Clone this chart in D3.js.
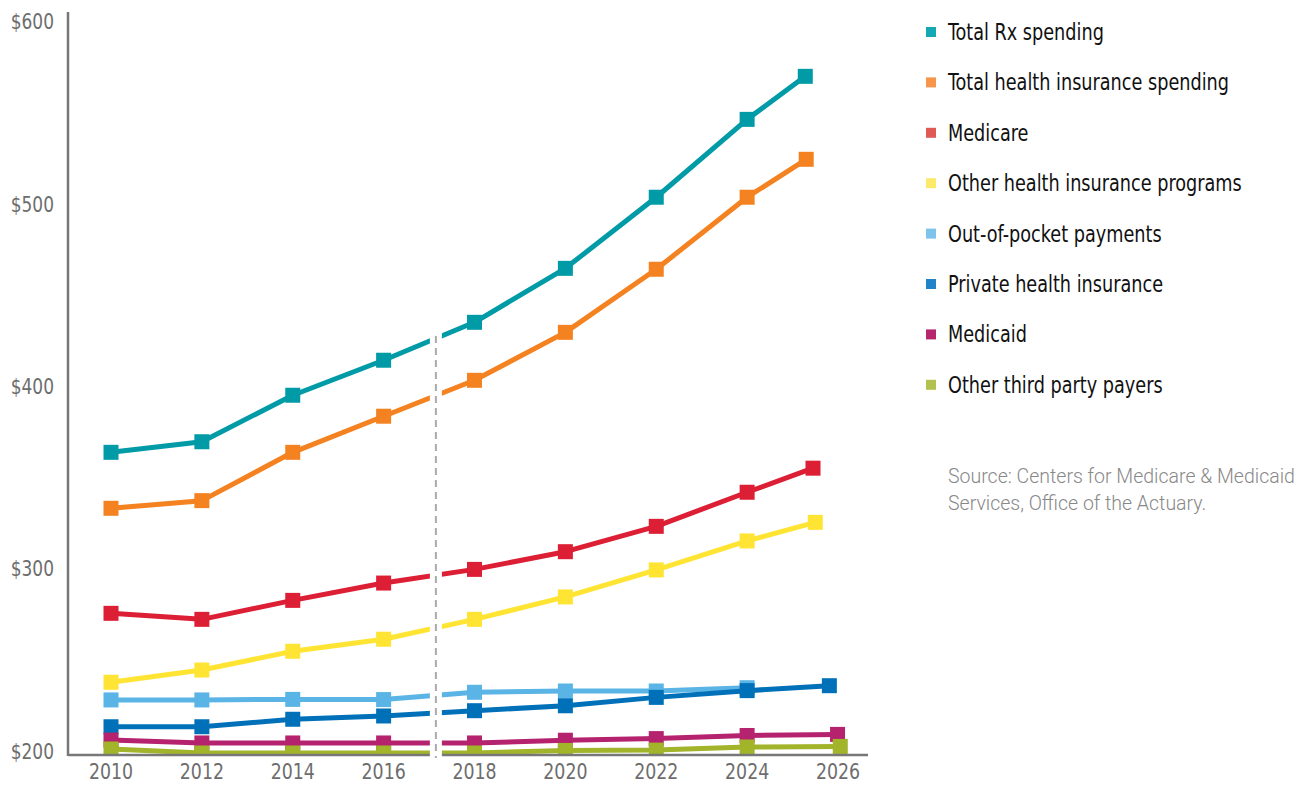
<!DOCTYPE html>
<html>
<head>
<meta charset="utf-8">
<script src="https://cdn.jsdelivr.net/npm/d3@7"></script>
<style>
  body { margin: 0; background: #fff; }
  svg { display: block; }
</style>
</head>
<body>
<div id="chart"></div>
<script>
const W = 1306, H = 785;
const COND = '"Liberation Sans Narrow", "DejaVu Sans Condensed", "Roboto Condensed", sans-serif';

// data (spending, $ billions)
const years = [2010, 2012, 2014, 2016, 2018, 2020, 2022, 2024];
const seriesNames = [
  "Total Rx spending",
  "Total health insurance spending",
  "Medicare",
  "Other health insurance programs",
  "Out-of-pocket payments",
  "Private health insurance",
  "Medicaid",
  "Other third party payers"
];
const totalRx          = [364.0, 369.8, 395.3, 414.5, 435.3, 464.9, 503.9, 546.6, 570.2];
const totalInsurance   = [333.3, 337.5, 364.0, 383.8, 403.5, 429.8, 464.4, 503.9, 524.7];
const medicare         = [275.7, 272.4, 282.8, 292.3, 299.8, 309.5, 323.4, 342.1, 355.3];
const otherPrograms    = [237.9, 244.6, 254.9, 261.5, 272.4, 284.7, 299.5, 315.4, 325.6];
const outOfPocket      = [228.2, 228.2, 228.5, 228.4, 232.4, 233.1, 233.1, 234.9];
const privateInsurance = [213.5, 213.5, 217.6, 219.4, 222.3, 225.0, 229.6, 233.3, 236.0];
const medicaid         = [206.2, 204.6, 204.6, 204.6, 204.6, 206.1, 207.0, 208.7, 209.3];
const otherThirdParty  = [201.3, 199.1, 199.1, 199.1, 199.1, 200.5, 200.7, 202.4, 202.7];
// the last point of each series sits a little before 2026 in the original
const finalYears = [2025.28, 2025.3, 2025.45, 2025.5, null, 2025.81, 2025.99, 2026.05];

const lineColors   = ["#009ba6", "#f58220", "#dc1f35", "#ffe433", "#5ab4e5", "#0071b9", "#b5236f", "#a2b42a"];
const legendColors = ["#14a8b5", "#f7964a", "#e05a55", "#fde96a", "#7cc4ec", "#2383c8", "#b5266f", "#b3c24f"];

const yTicks = [200, 300, 400, 500, 600];
const xTicks = [2010, 2012, 2014, 2016, 2018, 2020, 2022, 2024, 2026];
const projectionYear = 2017.15;
const sourceLines = ["Source: Centers for Medicare & Medicaid", "Services, Office of the Actuary."];

const allValues = [totalRx, totalInsurance, medicare, otherPrograms, outOfPocket, privateInsurance, medicaid, otherThirdParty];
const series = seriesNames.map((name, i) => {
  const vals = allValues[i];
  const xs = years.concat(finalYears[i] == null ? [] : [finalYears[i]]);
  return { name, color: lineColors[i], points: vals.map((v, j) => ({ year: xs[j], value: v })) };
});

const x = d3.scaleLinear().domain([2010, 2026]).range([111, 838]);
const y = d3.scaleLinear().domain([198, 600]).range([755, 22]);
const axisLeftX = 68, axisRightX = 868, axisTopY = 12;

const svg = d3.select("#chart").append("svg")
  .attr("width", W).attr("height", H)
  .attr("viewBox", [0, 0, W, H])
  .style("background-color", "white");

svg.append("defs").append("clipPath").attr("id", "plot-clip")
  .append("rect")
  .attr("x", axisLeftX).attr("y", 0)
  .attr("width", axisRightX - axisLeftX).attr("height", y(198));

const plot = svg.append("g").attr("clip-path", "url(#plot-clip)");

const line = d3.line().x(d => x(d.year)).y(d => y(d.value));

series.forEach(s => {
  const g = plot.append("g");
  g.append("path")
    .datum(s.points)
    .attr("d", line)
    .attr("fill", "none")
    .attr("stroke", s.color)
    .attr("stroke-width", 5)
    .attr("stroke-linejoin", "round");
  g.selectAll("rect")
    .data(s.points)
    .enter()
    .append("rect")
    .attr("x", d => x(d.year) - 7.5)
    .attr("y", d => y(d.value) - 7.5)
    .attr("width", 15)
    .attr("height", 15)
    .attr("fill", s.color);
});

// axes
svg.append("line")
  .attr("x1", axisLeftX).attr("x2", axisLeftX)
  .attr("y1", axisTopY).attr("y2", y(198) + 1)
  .attr("stroke", "#777").attr("stroke-width", 2.5);
svg.append("line")
  .attr("x1", axisLeftX).attr("x2", axisRightX)
  .attr("y1", y(198)).attr("y2", y(198))
  .attr("stroke", "#777").attr("stroke-width", 2.5);

// projection divider: white gap + dashed line
svg.append("rect")
  .attr("x", x(projectionYear) - 6).attr("y", 330)
  .attr("width", 12).attr("height", y(198) + 3 - 330)
  .attr("fill", "white");
svg.append("line")
  .attr("x1", x(projectionYear)).attr("x2", x(projectionYear))
  .attr("y1", 336).attr("y2", y(198) + 3)
  .attr("stroke", "#aaa").attr("stroke-width", 2)
  .attr("stroke-dasharray", "7,5");

// tick labels (condensed look via a horizontal squeeze)
svg.append("g").selectAll("text")
  .data(yTicks)
  .enter()
  .append("text")
  .attr("transform", d => `translate(54, ${y(d)}) scale(0.9, 1)`)
  .attr("dy", "0.35em")
  .attr("text-anchor", "end")
  .style("font-family", COND)
  .style("font-size", "21px")
  .style("fill", "#6d6d6d")
  .text(d => `$${d}`);

svg.append("g").selectAll("text")
  .data(xTicks)
  .enter()
  .append("text")
  .attr("transform", d => `translate(${x(d)}, 772) scale(0.92, 1)`)
  .attr("dy", "0.35em")
  .attr("text-anchor", "middle")
  .style("font-family", COND)
  .style("font-size", "21px")
  .style("fill", "#6d6d6d")
  .text(d => d);

// legend
const legend = svg.append("g").attr("transform", "translate(926, 32)");
const items = legend.selectAll("g")
  .data(seriesNames)
  .enter()
  .append("g")
  .attr("transform", (d, i) => `translate(0, ${i * 50.4})`);
items.append("rect")
  .attr("x", 0).attr("y", -5)
  .attr("width", 10).attr("height", 10)
  .attr("fill", (d, i) => legendColors[i]);
items.append("text")
  .attr("transform", "translate(22, 0) scale(0.854, 1)")
  .attr("dy", "0.35em")
  .style("font-family", COND)
  .style("font-size", "23px")
  .style("fill", "#111")
  .text(d => d);

svg.append("g").selectAll("text")
  .data(sourceLines)
  .enter()
  .append("text")
  .attr("x", 948)
  .attr("y", (d, i) => 476 + i * 27)
  .attr("dy", "0.35em")
  .style("font-family", "Roboto, 'Open Sans', sans-serif")
  .style("font-weight", 300)
  .style("font-size", "19.5px")
  .style("fill", "#888")
  .text(d => d);
</script>
</body>
</html>
